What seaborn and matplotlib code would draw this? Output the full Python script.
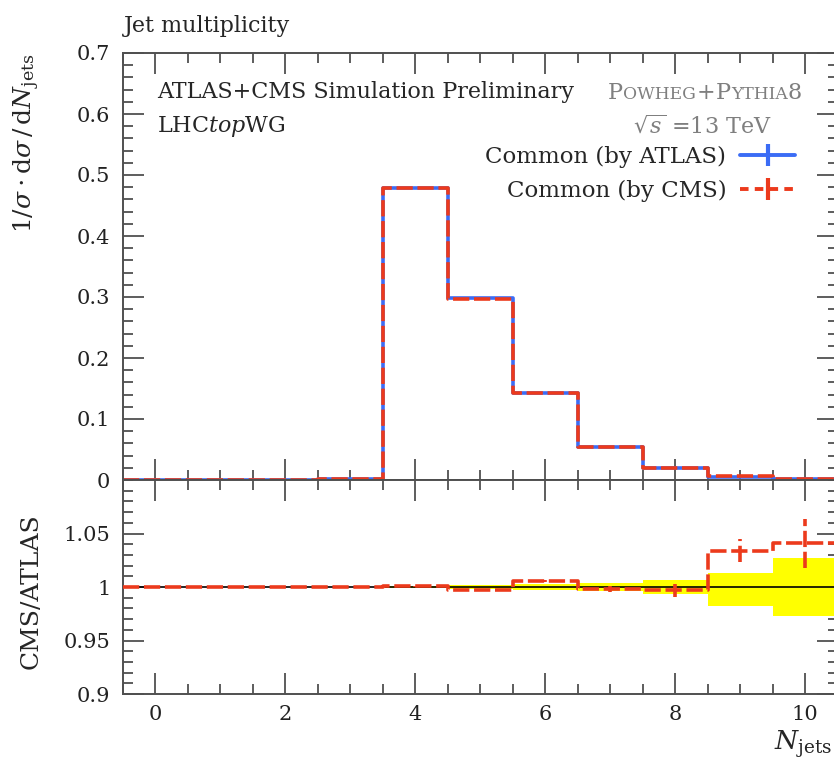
import numpy as np
import pandas as pd
import seaborn as sns
import matplotlib
matplotlib.use("Agg")
import matplotlib.pyplot as plt
from matplotlib.lines import Line2D
from matplotlib.ticker import MultipleLocator, FixedLocator

# ---------------- data ----------------
n_jets = [0, 1, 2, 3, 4, 5, 6, 7, 8, 9, 10]
bin_edges = [-0.5, 0.5, 1.5, 2.5, 3.5, 4.5, 5.5, 6.5, 7.5, 8.5, 9.5, 10.5]
atlas_vals = [0.0008, 0.0008, 0.0008, 0.0010, 0.479, 0.298, 0.142, 0.0546, 0.0190, 0.0057, 0.0021]
cms_vals = [0.0008, 0.0008, 0.0008, 0.0010, 0.479, 0.297, 0.143, 0.0545, 0.0189, 0.0059, 0.0022]
ratio_vals = [1.000, 1.000, 1.000, 1.000, 1.0006, 0.997, 1.006, 0.998, 0.997, 1.034, 1.041]
ratio_err = [0.0, 0.0, 0.0, 0.0, 0.0005, 0.001, 0.001, 0.003, 0.006, 0.011, 0.023]
band_up = [0.0, 0.0, 0.0, 0.0, 0.0008, 0.0015, 0.003, 0.004, 0.007, 0.013, 0.027]
band_dn = [0.0, 0.0, 0.0, 0.0, 0.0008, 0.0015, 0.003, 0.004, 0.007, 0.018, 0.027]
top_yticks = [0.0, 0.1, 0.2, 0.3, 0.4, 0.5, 0.6, 0.7]
top_yticklabels = ["0", "0.1", "0.2", "0.3", "0.4", "0.5", "0.6", "0.7"]
ratio_yticks = [0.9, 0.95, 1.0, 1.05]
ratio_yticklabels = ["0.9", "0.95", "1", "1.05"]
labels = ["Common (by ATLAS)", "Common (by CMS)"]

BLUE = "#3b6cf5"
RED = "#ec3a1c"
GRAY = "#7f7f7f"
SPINE = "#505050"

sns.set_theme(style="ticks")
plt.rcParams["font.family"] = ["DejaVu Serif", "DejaVu Sans"]
plt.rcParams["mathtext.fontset"] = "dejavuserif"

W, H = 834, 762
fig = plt.figure(figsize=(W / 100, H / 100), dpi=100)
left = 123 / W
width = (837.5 - 123) / W
ax = fig.add_axes([left, (H - 480) / H, width, (480 - 53) / H])
axr = fig.add_axes([left, (H - 694) / H, width, (694 - 480) / H], sharex=ax)

df = pd.DataFrame({"n": n_jets, "atlas": atlas_vals, "cms": cms_vals, "ratio": ratio_vals})
dash = (0, (4.5, 1.3))

# ---- top panel ----
sns.histplot(data=df, x="n", weights="atlas", bins=bin_edges, element="step", fill=False,
             color=BLUE, lw=2.6, ax=ax)
sns.histplot(data=df, x="n", weights="cms", bins=bin_edges, element="step", fill=False,
             color=RED, lw=2.6, linestyle=dash, ax=ax)
ax.axhline(0, color="black", lw=1.3, zorder=5)
ax.set_xlim(-0.5, 10.5)
ax.set_ylim(0, 0.7)

# ---- ratio panel ----
e = np.array(bin_edges)
up = 1.0 + np.array(band_up)
dn = 1.0 - np.array(band_dn)
axr.fill_between(e, np.append(dn, dn[-1]), np.append(up, up[-1]), step="post",
                 color="#ffff00", lw=0, zorder=1)
axr.axhline(1.0, color="black", lw=1.2, zorder=3)
sns.histplot(data=df, x="n", weights="ratio", bins=bin_edges, element="step", fill=False,
             color=RED, lw=2.6, linestyle=dash, ax=axr, zorder=4)
eb = axr.errorbar(n_jets, ratio_vals, yerr=ratio_err, fmt="none", ecolor=RED, elinewidth=2.6,
                  capsize=0, zorder=4)
for lc in eb[2]:
    lc.set_linestyle((0, (4.5, 1.3)))
axr.set_ylim(0.9, 1.1)
axr.set_xlim(-0.5, 10.5)

# ---- axes styling ----
for a in (ax, axr):
    a.set_xlabel("")
    a.set_ylabel("")
    for s in a.spines.values():
        s.set_visible(True)
        s.set_color(SPINE)
        s.set_linewidth(1.4)
    a.xaxis.set_major_locator(MultipleLocator(2))
    a.xaxis.set_minor_locator(MultipleLocator(0.5))
    a.tick_params(which="both", direction="in", top=True, right=True, color=SPINE,
                  labelsize=15, width=1.3, labelcolor="#222222")
    a.tick_params(which="major", length=15)
    a.tick_params(which="minor", length=7)
    a.tick_params(axis="y", pad=9)
    a.tick_params(axis="x", pad=8)

ax.set_yticks(top_yticks, top_yticklabels)
ax.yaxis.set_minor_locator(MultipleLocator(0.02))
axr.set_yticks(ratio_yticks, ratio_yticklabels)
axr.yaxis.set_minor_locator(FixedLocator(np.arange(0.9, 1.1001, 0.01)))
ax.tick_params(axis="x", labelbottom=False)
axr.set_xticks([0, 2, 4, 6, 8, 10], ["0", "2", "4", "6", "8", "10"])

ax.set_ylabel(r"$1/\sigma \cdot \mathrm{d}\sigma\,/\,\mathrm{d}N_{\mathrm{jets}}$", fontsize=18, loc="top")
ax.yaxis.set_label_coords(-0.113, 1.0)
axr.set_ylabel("CMS/ATLAS", fontsize=18)
axr.yaxis.set_label_coords(-0.113, 0.48)

fig.text(832 / W, (H - 744) / H, r"$N_{\mathrm{jets}}$", ha="right", va="center", fontsize=19)
fig.text(124 / W, (H - 32) / H, "Jet multiplicity", ha="left", va="baseline", fontsize=16)
fig.text(157 / W, (H - 98) / H, "ATLAS+CMS Simulation Preliminary", ha="left", va="baseline", fontsize=16)
fig.text(157 / W, (H - 132) / H, r"LHC$\it{top}$WG", ha="left", va="baseline", fontsize=16)

# small caps Powheg+Pythia8
renderer = fig.canvas.get_renderer()
x = 608.0
for s, size in [("P", 16), ("OWHEG", 12.3), ("+", 16), ("P", 16), ("YTHIA", 12.3), ("8", 16)]:
    t = fig.text(x / W, (H - 99) / H, s, ha="left", va="baseline", fontsize=size, color=GRAY)
    x += t.get_window_extent(renderer).width + 0.3
fig.text(772 / W, (H - 133) / H, r"$\sqrt{s}$ =13 TeV", ha="right", va="baseline", fontsize=16, color=GRAY)

handles = [
    Line2D([], [], color=BLUE, lw=2.8, marker="|", markersize=16, mew=3),
    Line2D([], [], color=RED, lw=2.8, linestyle=(0, (2.2, 1.6)), marker="|", markersize=16, mew=3),
]
fig.legend(handles, labels, loc="upper right", bbox_to_anchor=(795 / W, (H - 146) / H),
           frameon=False, markerfirst=False, handlelength=2.4, fontsize=16.5,
           borderpad=0, borderaxespad=0, labelspacing=0.5, handletextpad=0.6, numpoints=1)

fig.savefig("out.png", dpi=100)
